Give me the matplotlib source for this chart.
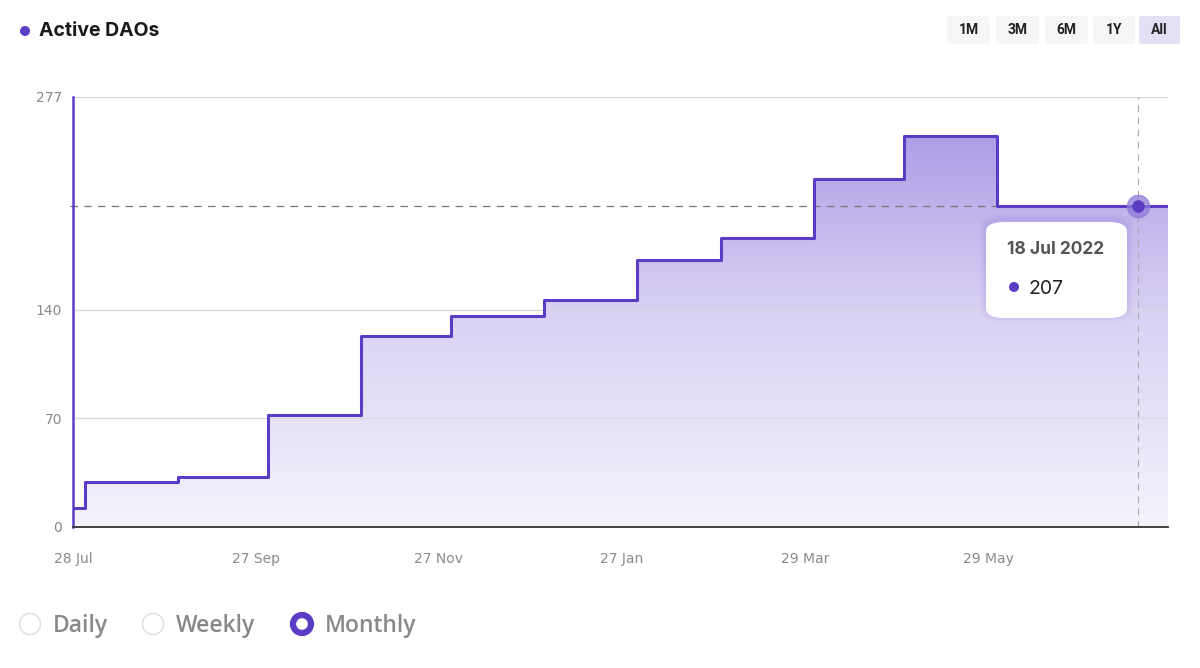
import numpy as np
import pandas as pd
import matplotlib
matplotlib.use("Agg")
import matplotlib.pyplot as plt
import matplotlib.dates as mdates
from matplotlib.patches import FancyBboxPatch, Ellipse
from matplotlib.colors import LinearSegmentedColormap

# monthly active DAOs (value holds from the given date on)
step_dates = ['2021-07-28', '2021-08-01', '2021-09-01', '2021-10-01', '2021-11-01',
              '2021-12-01', '2022-01-01', '2022-02-01', '2022-03-01', '2022-04-01',
              '2022-05-01', '2022-06-01', '2022-07-28']
step_values = [12, 29, 32, 72, 123, 136, 146, 172, 186, 224, 252, 207, 207]

y_ticks = [0, 70, 140, 277]
x_tick_dates = ['2021-07-28', '2021-09-27', '2021-11-27', '2022-01-27', '2022-03-29', '2022-05-29']
x_tick_labels = ['28 Jul', '27 Sep', '27 Nov', '27 Jan', '29 Mar', '29 May']

hover_date = '2022-07-18'
hover_value = 207
hover_label = '18 Jul 2022'

buttons = ['1M', '3M', '6M', '1Y', 'All']
radios = ['Daily', 'Weekly', 'Monthly']

purple = '#5b3cc4'
W, H = 1200, 668

fig = plt.figure(figsize=(12, 6.68), dpi=100)
ax = fig.add_axes([73 / W, (H - 527) / H, (1168 - 73) / W, (527 - 97) / H])


def dot(cx, cy, r, **kw):
    # circle given in pixel units of the figure
    e = Ellipse((cx / W, (H - cy) / H), 2 * r / W, 2 * r / H, transform=fig.transFigure, **kw)
    fig.patches.append(e)


xd = mdates.date2num(pd.to_datetime(step_dates))
x0, x1 = xd[0], xd[-1]

# gradient fill under the step line
poly = ax.fill_between(xd, step_values, 0, step='post', facecolor='none', edgecolor='none')
cmap = LinearSegmentedColormap.from_list('g', ['#f5f3fc', '#d9d1f4', '#a592e3'])
grad = np.linspace(0, 1, 256).reshape(-1, 1)
img = ax.imshow(grad, cmap=cmap, aspect='auto', origin='lower',
                extent=[x0, x1, 0, 277], zorder=1)
img.set_clip_path(poly.get_paths()[0], ax.transData)

ax.step(xd, step_values, where='post', color=purple, lw=2.2, zorder=3)

ax.set_xlim(x0, x1)
ax.set_ylim(0, 277)

# grid
for v in y_ticks[1:]:
    ax.axhline(v, color='#d9d9de', lw=1, zorder=2)

ax.set_yticks(y_ticks)
ax.set_yticklabels([str(v) for v in y_ticks])
ax.set_xticks(mdates.date2num(pd.to_datetime(x_tick_dates)))
ax.set_xticklabels(x_tick_labels)
ax.tick_params(axis='both', length=0, labelsize=10, labelcolor='#8a8a8a')
ax.tick_params(axis='x', pad=18)
ax.tick_params(axis='y', pad=8)

for s in ['top', 'right']:
    ax.spines[s].set_visible(False)
ax.spines['left'].set_color(purple)
ax.spines['left'].set_linewidth(1.8)
ax.spines['bottom'].set_color('#333333')
ax.spines['bottom'].set_linewidth(1.3)
ax.spines['bottom'].set_zorder(4)

# hover crosshair
hx = mdates.date2num(pd.to_datetime(hover_date))
ax.axhline(hover_value, xmin=-0.003, color='#777777', lw=0.9, ls=(0, (6, 5)), zorder=2, clip_on=False)
ax.axvline(hx, color='#aaaaaa', lw=0.8, ls=(0, (6, 5)), zorder=2)
ax.plot([hx], [hover_value], 'o', ms=16, color='#8f7ad8', alpha=0.75, zorder=5)
ax.plot([hx], [hover_value], 'o', ms=8, color=purple, zorder=6)

# tooltip with soft shadow
for k, a in [(6, 0.03), (4, 0.04), (2, 0.05)]:
    fig.patches.append(FancyBboxPatch(((986 - k) / W, (H - 318 - k + 2) / H), (141 + 2 * k) / W, (96 + 2 * k) / H,
                                      boxstyle='round,pad=0,rounding_size=0.018',
                                      transform=fig.transFigure, facecolor='#5b3cc4',
                                      edgecolor='none', alpha=a, zorder=9))
tip = FancyBboxPatch((986 / W, (H - 318) / H), 141 / W, 96 / H,
                     boxstyle='round,pad=0,rounding_size=0.015',
                     transform=fig.transFigure, facecolor='white', edgecolor='none',
                     zorder=10)
fig.patches.append(tip)
fig.text(1007 / W, (H - 249) / H, hover_label, fontsize=12.5, fontweight='bold',
         color='#555555', va='center', ha='left', family='Inter', zorder=11)
dot(1014, 287, 5, facecolor=purple, edgecolor='none', zorder=11)
fig.text(1028 / W, (H - 289) / H, str(hover_value), fontsize=14, color='#222222',
         va='center', ha='left', family='Inter', zorder=11)

# title
dot(25, 31, 5, facecolor=purple, edgecolor='none')
fig.text(39 / W, (H - 31) / H, 'Active DAOs', fontsize=14, fontweight='bold',
         color='#1a1a1a', va='center', ha='left', family='Inter')

# range buttons
bx = [947, 996, 1045, 1093, 1139]
bw = [43, 43, 43, 42, 41]
for i, b in enumerate(buttons):
    fc = '#e3e0f3' if b == 'All' else '#f6f6f7'
    fig.patches.append(FancyBboxPatch((bx[i] / W, (H - 44) / H), bw[i] / W, 28 / H,
                                      boxstyle='round,pad=0,rounding_size=0.003',
                                      transform=fig.transFigure, facecolor=fc,
                                      edgecolor='none'))
    fig.text((bx[i] + bw[i] / 2) / W, (H - 30) / H, b, fontsize=10, fontweight='bold',
             color='#222222', ha='center', va='center', family='Roboto')

# period radios
rx = [30, 153, 302]
for i, r in enumerate(radios):
    if r == 'Monthly':
        dot(rx[i], 624, 9, facecolor='white', edgecolor=purple, lw=4.5)
    else:
        dot(rx[i], 624, 10.5, facecolor='white', edgecolor='#dddddd', lw=1)
    fig.text((rx[i] + 23) / W, (H - 626) / H, r, fontsize=16.5, fontweight='semibold',
             color='#888888', ha='left', va='center', family='Open Sans')

fig.savefig('out.png', dpi=100)
